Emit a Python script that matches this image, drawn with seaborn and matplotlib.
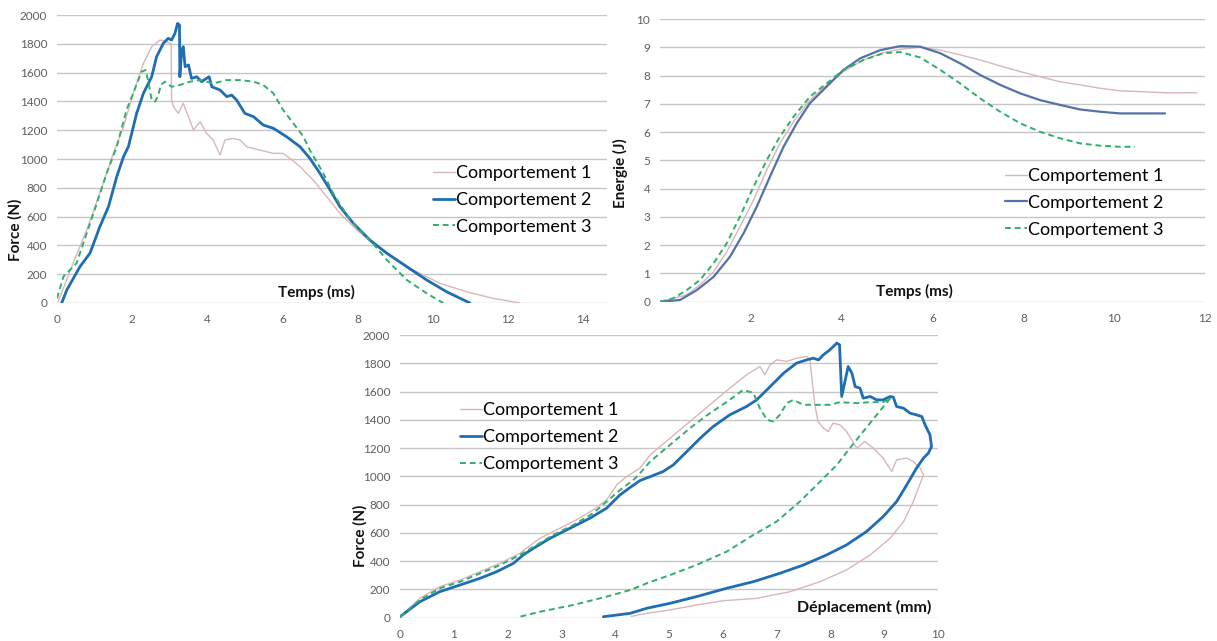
import numpy as np
import pandas as pd
import seaborn as sns
import matplotlib
matplotlib.use('Agg')
import matplotlib.pyplot as plt

# --- Force vs temps (haut gauche)
t1_c1 = [0.03, 0.43, 0.79, 1.14, 1.50, 1.77, 2.03, 2.30, 2.52, 2.74, 2.90, 3.04, 3.05, 3.10, 3.23, 3.36, 3.50, 3.63,
         3.81, 3.98, 4.16, 4.34, 4.47, 4.69, 4.87, 5.05, 5.40, 5.76, 6.02, 6.20, 6.47, 6.82, 7.18, 7.53, 7.98,
         8.42, 8.95, 9.48, 10.19, 10.90, 11.61, 12.32]
f1_c1 = [9, 276, 507, 762, 1039, 1224, 1456, 1664, 1780, 1826, 1815, 1800, 1410, 1363, 1317, 1387, 1294, 1201,
         1259, 1178, 1132, 1028, 1132, 1143, 1132, 1085, 1062, 1039, 1039, 1005, 947, 854, 738, 623, 507,
         415, 322, 229, 137, 78, 32, 0]
t1_c2 = [0.125, 0.26, 0.61, 0.88, 1.14, 1.37, 1.59, 1.77, 1.90, 2.12, 2.30, 2.52, 2.65, 2.83, 2.96, 3.05, 3.14,
         3.21, 3.26, 3.27, 3.32, 3.36, 3.41, 3.50, 3.58, 3.72, 3.85, 3.98, 4.05, 4.12, 4.34, 4.52, 4.65, 4.78,
         5.00, 5.23, 5.49, 5.76, 6.11, 6.47, 6.73, 7.00, 7.27, 7.53, 7.89, 8.33, 8.78, 9.31, 9.84, 10.37, 10.99]
f1_c2 = [0, 90, 252, 347, 530, 669, 877, 1016, 1085, 1317, 1456, 1571, 1710, 1803, 1838, 1826, 1873,
         1942, 1930, 1571, 1757, 1780, 1641, 1653, 1560, 1571, 1537, 1560, 1571, 1502, 1479, 1433, 1444, 1410,
         1317, 1294, 1236, 1213, 1155, 1085, 1005, 900, 785, 669, 553, 437, 345, 252, 160, 78, 0]
t1_c3 = [0, 0.17, 0.52, 0.79, 1.06, 1.32, 1.59, 1.85, 2.08, 2.25, 2.36, 2.43, 2.52, 2.61, 2.70, 2.76, 2.87, 3.05,
         3.27, 3.54, 3.81, 4.16, 4.52, 4.87, 5.23, 5.49, 5.76, 6.02, 6.29, 6.56, 6.73, 7.09, 7.35, 7.80, 8.33,
         8.78, 9.31, 9.84, 10.28]
f1_c3 = [32, 183, 276, 484, 692, 900, 1085, 1340, 1491, 1606, 1618, 1537, 1410, 1398, 1444, 1514, 1537, 1502,
         1514, 1537, 1548, 1525, 1548, 1548, 1537, 1514, 1456, 1340, 1248, 1155, 1062, 900, 762, 576, 437,
         299, 160, 67, 0]

# --- Energie vs temps (haut droite)
t2_c1 = [0, 0.59, 0.88, 1.18, 1.47, 1.76, 2.06, 2.35, 2.64, 2.94, 3.30, 3.67, 4.04, 4.48, 4.92, 5.29, 5.73, 6.17,
         6.61, 7.05, 7.49, 7.93, 8.37, 8.81, 9.25, 9.69, 10.13, 10.57, 11.16, 11.82]
e2_c1 = [0, 0.24, 0.59, 1.06, 1.77, 2.65, 3.60, 4.66, 5.60, 6.37, 7.13, 7.66, 8.14, 8.55, 8.81, 8.93, 9.00, 8.90,
         8.73, 8.55, 8.34, 8.14, 7.96, 7.78, 7.67, 7.55, 7.46, 7.43, 7.39, 7.39]
t2_c2 = [0, 0.44, 0.81, 1.18, 1.54, 1.84, 2.13, 2.42, 2.72, 3.01, 3.30, 3.67, 4.04, 4.41, 4.85, 5.29, 5.73, 6.17,
         6.61, 7.05, 7.49, 7.93, 8.37, 8.81, 9.25, 9.69, 10.13, 10.57, 11.12]
e2_c2 = [0, 0.06, 0.41, 0.88, 1.59, 2.42, 3.36, 4.42, 5.48, 6.31, 7.02, 7.61, 8.20, 8.61, 8.90, 9.04, 9.02, 8.79,
         8.43, 8.02, 7.67, 7.37, 7.13, 6.96, 6.80, 6.72, 6.66, 6.66, 6.66]
t2_c3 = [0, 0.29, 0.59, 0.88, 1.18, 1.47, 1.76, 2.06, 2.35, 2.64, 2.94, 3.30, 3.67, 4.04, 4.48, 4.92, 5.29, 5.73,
         6.17, 6.61, 7.05, 7.49, 7.93, 8.37, 8.81, 9.25, 9.69, 10.13, 10.46]
e2_c3 = [0, 0.12, 0.41, 0.77, 1.36, 2.07, 3.01, 4.07, 5.01, 5.84, 6.54, 7.25, 7.72, 8.20, 8.55, 8.79, 8.83, 8.64,
         8.20, 7.72, 7.19, 6.72, 6.31, 6.01, 5.78, 5.60, 5.52, 5.48, 5.48]

# --- Force vs deplacement (bas)
d3_c1 = [0, 0.37, 0.74, 1.12, 1.49, 1.86, 2.23, 2.60, 2.91, 3.28, 3.59, 3.84, 4.03, 4.21, 4.46, 4.65, 5.02, 5.39,
         5.76, 6.13, 6.44, 6.69, 6.78, 6.88, 7.00, 7.19, 7.37, 7.56, 7.62, 7.65, 7.71, 7.77, 7.87, 7.96, 8.05,
         8.18, 8.30, 8.49, 8.64, 8.80, 8.98, 9.14, 9.23, 9.42, 9.54, 9.67, 9.73, 9.67, 9.54, 9.36, 9.11, 8.74,
         8.30, 7.81, 7.25, 6.63, 6.01, 5.51, 5.02, 4.59, 4.30]
f3_c1 = [7, 137, 220, 267, 326, 385, 456, 562, 621, 692, 763, 833, 940, 998, 1058, 1152, 1270, 1388,
         1506, 1624, 1718, 1777, 1718, 1789, 1824, 1813, 1836, 1848, 1824, 1718, 1506, 1388, 1341, 1317, 1376,
         1364, 1317, 1199, 1246, 1199, 1129, 1034, 1117, 1129, 1105, 1058, 1010, 951, 821, 680, 562, 444,
         338, 255, 184, 137, 120, 90, 55, 31, 10]
d3_c2 = [0, 0.37, 0.74, 1.12, 1.49, 1.80, 2.11, 2.29, 2.48, 2.79, 3.16, 3.53, 3.84, 4.09, 4.28, 4.46, 4.65, 4.89,
         5.08, 5.33, 5.58, 5.82, 6.13, 6.44, 6.63, 6.88, 7.13, 7.37, 7.56, 7.68, 7.78, 7.87, 7.99, 8.12, 8.17,
         8.21, 8.27, 8.33, 8.40, 8.46, 8.55, 8.61, 8.74, 8.86, 8.98, 9.11, 9.17, 9.23, 9.36, 9.48, 9.60, 9.70,
         9.76, 9.85, 9.88, 9.82, 9.73, 9.60, 9.42, 9.23, 8.98, 8.67, 8.30, 7.93, 7.50, 7.06, 6.57, 6.07, 5.51,
         5.02, 4.59, 4.28, 3.78]
f3_c2 = [7, 113, 184, 232, 279, 326, 385, 444, 491, 562, 633, 704, 775, 869, 922, 970, 998, 1034,
         1081, 1175, 1270, 1352, 1435, 1494, 1541, 1635, 1730, 1801, 1824, 1836, 1824, 1860, 1895, 1943, 1931,
         1565, 1671, 1777, 1730, 1635, 1624, 1553, 1565, 1541, 1541, 1565, 1560, 1494, 1482, 1447, 1435, 1423,
         1364, 1294, 1211, 1164, 1129, 1058, 940, 821, 715, 609, 515, 444, 373, 314, 255, 208, 149,
         102, 67, 31, 7]
d3_c3 = [0, 0.37, 0.74, 1.12, 1.49, 1.86, 2.23, 2.54, 2.85, 3.22, 3.59, 3.84, 4.09, 4.34, 4.46, 4.65, 5.02, 5.39,
         5.76, 6.13, 6.38, 6.57, 6.69, 6.82, 6.94, 7.06, 7.19, 7.31, 7.50, 7.75, 7.99, 8.18, 8.49, 8.74, 8.98,
         9.12, 8.86, 8.61, 8.36, 8.12, 7.81, 7.43, 7.00, 6.57, 6.07, 5.51, 5.02, 4.59, 4.28, 3.84, 3.22, 2.60,
         2.23]
f3_c3 = [7, 125, 208, 255, 314, 373, 444, 515, 586, 656, 739, 821, 904, 975, 1022, 1105, 1223, 1341,
         1447, 1541, 1612, 1589, 1482, 1400, 1388, 1435, 1518, 1541, 1506, 1506, 1506, 1525, 1518, 1525, 1525,
         1555, 1435, 1317, 1199, 1081, 963, 821, 680, 586, 467, 373, 302, 244, 196, 149, 90, 42,
         7]

labels = ['Comportement 1', 'Comportement 2', 'Comportement 3']

sns.set_theme(style='white')
plt.rcParams['font.family'] = ['Lato', 'DejaVu Sans']

fig = plt.figure(figsize=(12.17, 6.41), dpi=100)
ax1 = fig.add_axes([57 / 1217, 1 - 303 / 641, 550 / 1217, 288 / 641])
ax2 = fig.add_axes([660 / 1217, 1 - 301.7 / 641, 545 / 1217, 282.7 / 641])
ax3 = fig.add_axes([400 / 1217, 1 - 617.7 / 641, 538 / 1217, 282.7 / 641])

pink = '#d9b6b9'
blue = '#1f6db3'
green = '#2fae6e'


def draw(ax, series, blue_col, blue_lw):
    styles = [(pink, 1.0, ''), (blue_col, blue_lw, ''), (green, 1.4, (3, 2))]
    for (x, y), lab, (col, lw, ds) in zip(series, labels, styles):
        df = pd.DataFrame({'x': x, 'y': y})
        sns.lineplot(data=df, x='x', y='y', ax=ax, sort=False, estimator=None, color=col,
                     linewidth=lw, label=lab, dashes=False)
        if ds:
            ax.lines[-1].set_dashes(ds)


draw(ax1, [(t1_c1, f1_c1), (t1_c2, f1_c2), (t1_c3, f1_c3)], blue, 2.0)
draw(ax2, [(t2_c1, e2_c1), (t2_c2, e2_c2), (t2_c3, e2_c3)], '#5372aa', 1.6)
draw(ax3, [(d3_c1, f3_c1), (d3_c2, f3_c2), (d3_c3, f3_c3)], blue, 2.0)

ax1.set_xlim(0, 14.64)
ax1.set_xticks(range(0, 15, 2))
ax1.set_ylim(0, 2000)
ax1.set_yticks(range(0, 2001, 200))
ax2.set_xlim(0, 12)
ax2.set_xticks(range(2, 13, 2))
ax2.set_ylim(0, 10)
ax2.set_yticks(range(0, 11))
ax3.set_xlim(0, 10)
ax3.set_xticks(range(0, 11))
ax3.set_ylim(0, 2000)
ax3.set_yticks(range(0, 2001, 200))

xlab = [('Temps (ms)', 0.471, 11), ('Temps (ms)', 0.466, 11), ('Déplacement (mm)', 0.863, 11.5)]
ylab = [('Force (N)', -0.062, 0.253), ('Energie (J)', -0.059, 0.455), ('Force (N)', -0.061, 0.29)]
leg_pos = [(0.684, 0.358), (0.633, 0.35), (0.112, 0.639)]

for ax, (xl, xx, xs), (yl, yx, yy), lp in zip([ax1, ax2, ax3], xlab, ylab, leg_pos):
    for s in ax.spines.values():
        s.set_visible(False)
    ax.yaxis.grid(True, color='#c6c6c6', linewidth=1.0)
    ax.xaxis.grid(False)
    ax.set_axisbelow(True)
    ax.tick_params(axis='both', length=0, labelsize=8.5, labelcolor='#5e5e5e')
    ax.tick_params(axis='x', pad=8)
    ax.tick_params(axis='y', pad=7)
    ax.set_xlabel('')
    ax.set_ylabel(yl, fontsize=11, fontweight='bold', color='#111111')
    ax.yaxis.set_label_coords(yx, yy)
    ax.text(xx, 0.035, xl, transform=ax.transAxes, ha='center', va='center',
            fontsize=xs, fontweight='bold', color='#111111')
    leg = ax.legend(loc='center left', bbox_to_anchor=lp, frameon=False, fontsize=13,
                    handlelength=1.2, handletextpad=0.05, labelspacing=0.6, borderpad=0,
                    borderaxespad=0)
    for txt in leg.get_texts():
        txt.set_color('#000000')

fig.savefig('out.png', dpi=100, facecolor='white')
